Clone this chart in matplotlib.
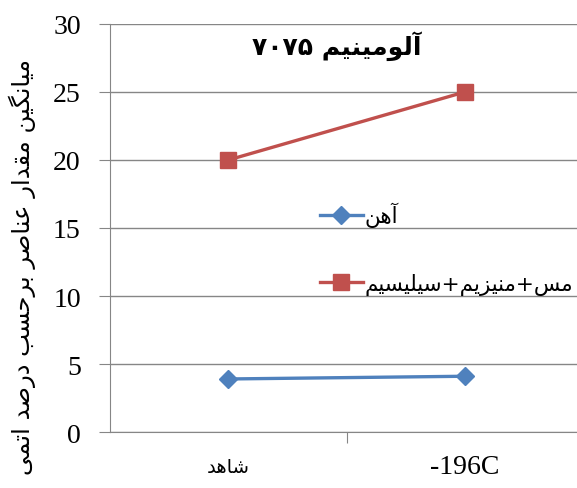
import re
import matplotlib
matplotlib.use("Agg")
import matplotlib.pyplot as plt

# ========== data ==========
categories = ["شاهد", "-196C"]
fe_vals = [3.9, 4.1]
mix_vals = [20, 25]
series_names = ["آهن", "مس+منیزیم+سیلیسیم"]
title = "آلومینیم ۷۰۷۵"
ylabel = "میانگین مقدار عناصر برحسب درصد اتمی"
yticks = [0, 5, 10, 15, 20, 25, 30]

# ========== persian shaping (no reshaper lib available) ==========
# dual joining: (isolated, final, initial, medial); right joining: (isolated, final)
FORMS = {
    "آ": ("\uFE81", "\uFE82"), "ا": ("\uFE8D", "\uFE8E"),
    "د": ("\uFEA9", "\uFEAA"), "ر": ("\uFEAD", "\uFEAE"),
    "ز": ("\uFEAF", "\uFEB0"), "و": ("\uFEED", "\uFEEE"),
    "ب": ("\uFE8F", "\uFE90", "\uFE91", "\uFE92"),
    "ت": ("\uFE95", "\uFE96", "\uFE97", "\uFE98"),
    "ح": ("\uFEA1", "\uFEA2", "\uFEA3", "\uFEA4"),
    "س": ("\uFEB1", "\uFEB2", "\uFEB3", "\uFEB4"),
    "ش": ("\uFEB5", "\uFEB6", "\uFEB7", "\uFEB8"),
    "ص": ("\uFEB9", "\uFEBA", "\uFEBB", "\uFEBC"),
    "ع": ("\uFEC9", "\uFECA", "\uFECB", "\uFECC"),
    "ق": ("\uFED5", "\uFED6", "\uFED7", "\uFED8"),
    "ل": ("\uFEDD", "\uFEDE", "\uFEDF", "\uFEE0"),
    "م": ("\uFEE1", "\uFEE2", "\uFEE3", "\uFEE4"),
    "ن": ("\uFEE5", "\uFEE6", "\uFEE7", "\uFEE8"),
    "ه": ("\uFEE9", "\uFEEA", "\uFEEB", "\uFEEC"),
    "گ": ("\uFB92", "\uFB93", "\uFB94", "\uFB95"),
    "ی": ("\uFBFC", "\uFBFD", "\uFBFE", "\uFBFF"),
}


def fa(text):
    out = []
    n = len(text)
    for i, c in enumerate(text):
        if c not in FORMS:
            out.append(c)
            continue
        f = FORMS[c]
        prev = text[i - 1] if i > 0 else ""
        nxt = text[i + 1] if i + 1 < n else ""
        jp = prev in FORMS and len(FORMS[prev]) == 4
        jn = nxt in FORMS and len(f) == 4
        if jp and jn:
            out.append(f[3])
        elif jp:
            out.append(f[1])
        elif jn:
            out.append(f[2])
        else:
            out.append(f[0])
    s = "".join(out)
    # visual order, digit runs stay left-to-right
    runs = re.findall(r"[0-9\u06F0-\u06F9]+|[^0-9\u06F0-\u06F9]+", s)
    runs = [r if re.match(r"[0-9\u06F0-\u06F9]", r) else r[::-1] for r in runs[::-1]]
    return "".join(runs)


def lbl(text):
    return fa(text) if re.search(r"[\u0600-\u06FF]", text) else text


# ========== plot ==========
fig = plt.figure(figsize=(5.77, 4.89), dpi=100)
ax = fig.add_axes([0.1906, 0.1145, 0.82, 0.8344])

x = [0, 1]
ax.plot(x, fe_vals, color="#4F81BD", lw=2.4, marker="D", ms=9, label=fa(series_names[0]))
ax.plot(x, mix_vals, color="#C0504D", lw=2.4, marker="s", ms=12, label=fa(series_names[1]))

ax.set_xlim(-0.5, 1.5)
ax.set_ylim(0, 30)
ax.set_yticks(yticks)
ax.yaxis.grid(True, color="#868686", lw=1)
ax.set_axisbelow(True)
for sp in ["top", "right"]:
    ax.spines[sp].set_visible(False)
for sp in ["left", "bottom"]:
    ax.spines[sp].set_color("#868686")
ax.tick_params(axis="y", length=8, color="#868686", labelsize=20, pad=13)
for t in ax.get_yticklabels():
    t.set_family("Liberation Serif")

ax.set_xticks([0.5])
ax.set_xticklabels([""])
ax.tick_params(axis="x", length=8, color="#868686")
ax.text(0, -0.085, lbl(categories[0]), transform=ax.get_xaxis_transform(),
        ha="center", va="center", fontsize=14, family="DejaVu Sans")
ax.text(1, -0.085, lbl(categories[1]), transform=ax.get_xaxis_transform(),
        ha="center", va="center", fontsize=20, family="Liberation Serif")

fig.text(0.038, 0.455, fa(ylabel), rotation=90, ha="center", va="center",
         fontsize=17.5, family="DejaVu Sans")
ax.text(0.48, 0.948, fa(title), transform=ax.transAxes, ha="center", va="center",
        fontsize=18, fontweight="bold", family="DejaVu Sans")

ax.legend(loc="upper left", bbox_to_anchor=(0.425, 0.585), frameon=False,
          fontsize=15.5, handlelength=2.0, handletextpad=0.1, labelspacing=2.1,
          borderaxespad=0)

fig.savefig("out.png", dpi=100)
